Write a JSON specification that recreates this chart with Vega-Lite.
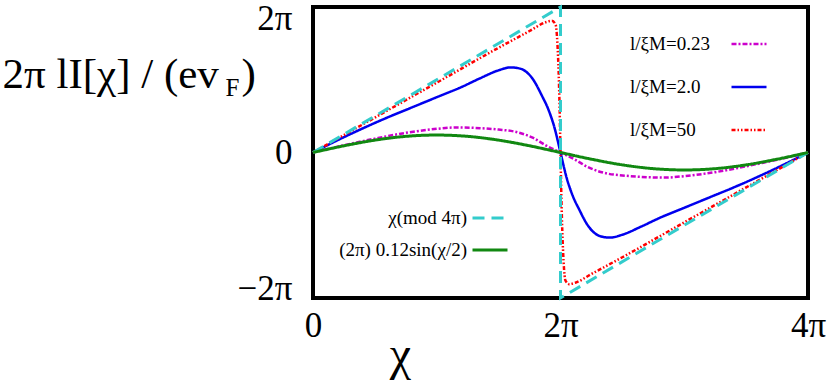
{
  "$schema": "https://vega.github.io/schema/vega-lite/v6.json",
  "width": 495,
  "height": 291,
  "autosize": {"type": "none"},
  "padding": {"left": 313, "top": 7, "right": 22, "bottom": 84},
  "background": "white",
  "config": {
    "view": {"stroke": "black", "strokeWidth": 4},
    "font": "Liberation Serif"
  },
  "datasets": {
    "curves": [
      {"s": "l/ξM=0.23", "x": 0, "y": 0},
      {"s": "l/ξM=0.23", "x": 0.25, "y": 0.10},
      {"s": "l/ξM=0.23", "x": 0.5, "y": 0.19},
      {"s": "l/ξM=0.23", "x": 0.75, "y": 0.27},
      {"s": "l/ξM=0.23", "x": 1.0, "y": 0.325},
      {"s": "l/ξM=0.23", "x": 1.16, "y": 0.345},
      {"s": "l/ξM=0.23", "x": 1.35, "y": 0.335},
      {"s": "l/ξM=0.23", "x": 1.5, "y": 0.315},
      {"s": "l/ξM=0.23", "x": 1.62, "y": 0.29},
      {"s": "l/ξM=0.23", "x": 1.78, "y": 0.2},
      {"s": "l/ξM=0.23", "x": 1.89, "y": 0.09},
      {"s": "l/ξM=0.23", "x": 2.0, "y": 0},
      {"s": "l/ξM=0.23", "x": 2.11, "y": -0.09},
      {"s": "l/ξM=0.23", "x": 2.22, "y": -0.2},
      {"s": "l/ξM=0.23", "x": 2.38, "y": -0.29},
      {"s": "l/ξM=0.23", "x": 2.5, "y": -0.315},
      {"s": "l/ξM=0.23", "x": 2.65, "y": -0.335},
      {"s": "l/ξM=0.23", "x": 2.84, "y": -0.345},
      {"s": "l/ξM=0.23", "x": 3.0, "y": -0.325},
      {"s": "l/ξM=0.23", "x": 3.25, "y": -0.27},
      {"s": "l/ξM=0.23", "x": 3.5, "y": -0.19},
      {"s": "l/ξM=0.23", "x": 3.75, "y": -0.10},
      {"s": "l/ξM=0.23", "x": 4.0, "y": 0},

      {"s": "l/ξM=2.0", "x": 0, "y": 0},
      {"s": "l/ξM=2.0", "x": 0.2, "y": 0.17},
      {"s": "l/ξM=2.0", "x": 0.4, "y": 0.33},
      {"s": "l/ξM=2.0", "x": 0.6, "y": 0.48},
      {"s": "l/ξM=2.0", "x": 0.8, "y": 0.62},
      {"s": "l/ξM=2.0", "x": 1.0, "y": 0.76},
      {"s": "l/ξM=2.0", "x": 1.2, "y": 0.9},
      {"s": "l/ξM=2.0", "x": 1.35, "y": 1.02},
      {"s": "l/ξM=2.0", "x": 1.5, "y": 1.13},
      {"s": "l/ξM=2.0", "x": 1.6, "y": 1.17},
      {"s": "l/ξM=2.0", "x": 1.68, "y": 1.15},
      {"s": "l/ξM=2.0", "x": 1.78, "y": 1.0},
      {"s": "l/ξM=2.0", "x": 1.85, "y": 0.78},
      {"s": "l/ξM=2.0", "x": 1.9, "y": 0.6},
      {"s": "l/ξM=2.0", "x": 1.95, "y": 0.35},
      {"s": "l/ξM=2.0", "x": 2.0, "y": 0},
      {"s": "l/ξM=2.0", "x": 2.05, "y": -0.35},
      {"s": "l/ξM=2.0", "x": 2.1, "y": -0.6},
      {"s": "l/ξM=2.0", "x": 2.15, "y": -0.78},
      {"s": "l/ξM=2.0", "x": 2.22, "y": -1.0},
      {"s": "l/ξM=2.0", "x": 2.32, "y": -1.15},
      {"s": "l/ξM=2.0", "x": 2.4, "y": -1.17},
      {"s": "l/ξM=2.0", "x": 2.5, "y": -1.13},
      {"s": "l/ξM=2.0", "x": 2.65, "y": -1.02},
      {"s": "l/ξM=2.0", "x": 2.8, "y": -0.9},
      {"s": "l/ξM=2.0", "x": 3.0, "y": -0.76},
      {"s": "l/ξM=2.0", "x": 3.2, "y": -0.62},
      {"s": "l/ξM=2.0", "x": 3.4, "y": -0.48},
      {"s": "l/ξM=2.0", "x": 3.6, "y": -0.33},
      {"s": "l/ξM=2.0", "x": 3.8, "y": -0.17},
      {"s": "l/ξM=2.0", "x": 4.0, "y": 0},

      {"s": "l/ξM=50", "x": 0, "y": 0},
      {"s": "l/ξM=50", "x": 0.5, "y": 0.48},
      {"s": "l/ξM=50", "x": 1.0, "y": 0.96},
      {"s": "l/ξM=50", "x": 1.5, "y": 1.44},
      {"s": "l/ξM=50", "x": 1.75, "y": 1.67},
      {"s": "l/ξM=50", "x": 1.88, "y": 1.79},
      {"s": "l/ξM=50", "x": 1.93, "y": 1.81},
      {"s": "l/ξM=50", "x": 1.96, "y": 1.76},
      {"s": "l/ξM=50", "x": 1.975, "y": 1.5},
      {"s": "l/ξM=50", "x": 1.985, "y": 1.1},
      {"s": "l/ξM=50", "x": 1.993, "y": 0.6},
      {"s": "l/ξM=50", "x": 2.0, "y": 0},
      {"s": "l/ξM=50", "x": 2.007, "y": -0.6},
      {"s": "l/ξM=50", "x": 2.015, "y": -1.1},
      {"s": "l/ξM=50", "x": 2.025, "y": -1.5},
      {"s": "l/ξM=50", "x": 2.04, "y": -1.76},
      {"s": "l/ξM=50", "x": 2.07, "y": -1.81},
      {"s": "l/ξM=50", "x": 2.12, "y": -1.79},
      {"s": "l/ξM=50", "x": 2.25, "y": -1.67},
      {"s": "l/ξM=50", "x": 2.5, "y": -1.44},
      {"s": "l/ξM=50", "x": 3.0, "y": -0.96},
      {"s": "l/ξM=50", "x": 3.5, "y": -0.48},
      {"s": "l/ξM=50", "x": 4.0, "y": 0},

      {"s": "χ(mod 4π)", "x": 0, "y": 0},
      {"s": "χ(mod 4π)", "x": 2, "y": 2},
      {"s": "χ(mod 4π)", "x": 2, "y": -2},
      {"s": "χ(mod 4π)", "x": 4, "y": 0},

      {"s": "(2π) 0.12sin(χ/2)", "x": 0, "y": 0},
      {"s": "(2π) 0.12sin(χ/2)", "x": 0.25, "y": 0.092},
      {"s": "(2π) 0.12sin(χ/2)", "x": 0.5, "y": 0.170},
      {"s": "(2π) 0.12sin(χ/2)", "x": 0.75, "y": 0.222},
      {"s": "(2π) 0.12sin(χ/2)", "x": 1.0, "y": 0.24},
      {"s": "(2π) 0.12sin(χ/2)", "x": 1.25, "y": 0.222},
      {"s": "(2π) 0.12sin(χ/2)", "x": 1.5, "y": 0.170},
      {"s": "(2π) 0.12sin(χ/2)", "x": 1.75, "y": 0.092},
      {"s": "(2π) 0.12sin(χ/2)", "x": 2.0, "y": 0},
      {"s": "(2π) 0.12sin(χ/2)", "x": 2.25, "y": -0.092},
      {"s": "(2π) 0.12sin(χ/2)", "x": 2.5, "y": -0.170},
      {"s": "(2π) 0.12sin(χ/2)", "x": 2.75, "y": -0.222},
      {"s": "(2π) 0.12sin(χ/2)", "x": 3.0, "y": -0.24},
      {"s": "(2π) 0.12sin(χ/2)", "x": 3.25, "y": -0.222},
      {"s": "(2π) 0.12sin(χ/2)", "x": 3.5, "y": -0.170},
      {"s": "(2π) 0.12sin(χ/2)", "x": 3.75, "y": -0.092},
      {"s": "(2π) 0.12sin(χ/2)", "x": 4.0, "y": 0}
    ]
  },
  "data": {"name": "curves"},
  "encoding": {
    "x": {
      "field": "x", "type": "quantitative",
      "scale": {"domain": [0, 4], "nice": false, "zero": false},
      "axis": {
        "orient": "bottom", "values": [0, 2, 4],
        "labelExpr": "datum.value == 0 ? '0' : datum.value + 'π'",
        "labelFont": "Liberation Serif", "labelFontSize": 35, "labelColor": "black",
        "labelPadding": 10, "ticks": false, "tickSize": 0, "domain": false, "grid": false,
        "labelFlush": false,
        "title": "χ", "titleFont": "Liberation Serif", "titleFontSize": 48, "titleFontWeight": "normal", "titleColor": "black",
        "titleX": 87, "titleY": 71, "titleAlign": "center", "titleBaseline": "alphabetic", "titleAnchor": null
      }
    }
  },
  "layer": [
    {
      "transform": [{"filter": {"field": "s", "oneOf": ["l/ξM=0.23", "l/ξM=2.0", "l/ξM=50"]}}],
      "mark": {"type": "line", "strokeWidth": 2.5, "interpolate": "monotone"},
      "encoding": {
        "y": {
          "field": "y", "type": "quantitative",
          "scale": {"domain": [-2, 2], "nice": false, "zero": false},
          "axis": {
            "orient": "left", "values": [-2, 0, 2],
            "labelExpr": "datum.value == 0 ? '0' : (datum.value < 0 ? '−2π' : '2π')",
            "labelFont": "Liberation Serif", "labelFontSize": 35, "labelColor": "black",
            "labelPadding": 21, "ticks": false, "tickSize": 0, "domain": false, "grid": false,
            "labelFlush": false,
            "labelOffset": {"condition": [{"test": "datum.value < 0", "value": -10}, {"test": "datum.value > 0", "value": 11}], "value": 0},
            "title": "2π lI[χ] / (ev", "titleFont": "Liberation Serif", "titleFontSize": 43, "titleFontWeight": "normal", "titleColor": "black",
            "titleAngle": 0, "titleAlign": "left", "titleBaseline": "alphabetic", "titleX": -311, "titleY": 80, "titleAnchor": null
          }
        },
        "color": {
          "field": "s", "type": "nominal",
          "scale": {"domain": ["l/ξM=0.23", "l/ξM=2.0", "l/ξM=50"], "range": ["#cc00cc", "#0000ee", "#ff0000"]},
          "legend": {
            "orient": "none", "legendX": 317, "legendY": 18, "direction": "vertical", "title": null,
            "symbolType": "stroke", "symbolSize": 1225, "symbolStrokeWidth": 2.5,
            "labelFont": "Liberation Serif", "labelFontSize": 19, "labelColor": "black",
            "labelAlign": "left", "labelOffset": -138, "symbolOffset": 100, "rowPadding": 14, "labelLimit": 0
          }
        },
        "strokeDash": {
          "field": "s", "type": "nominal",
          "scale": {"domain": ["l/ξM=0.23", "l/ξM=2.0", "l/ξM=50"], "range": [[5, 2, 2, 2], [1, 0], [4, 2, 1.5, 2, 1.5, 2]]},
          "legend": {
            "orient": "none", "legendX": 317, "legendY": 18, "direction": "vertical", "title": null,
            "symbolType": "stroke", "symbolSize": 1225, "symbolStrokeWidth": 2.5,
            "labelFont": "Liberation Serif", "labelFontSize": 19, "labelColor": "black",
            "labelAlign": "left", "labelOffset": -138, "symbolOffset": 100, "rowPadding": 14, "labelLimit": 0
          }
        }
      }
    },
    {
      "encoding": {
        "x": {
          "field": "x", "type": "quantitative",
          "scale": {"domain": [0, 4], "nice": false, "zero": false},
          "axis": {
            "orient": "top", "labels": false, "ticks": false, "domain": false, "grid": false,
            "title": ")", "titleFont": "Liberation Serif", "titleFontSize": 43, "titleFontWeight": "normal", "titleColor": "black",
            "titleAngle": 0, "titleAlign": "left", "titleBaseline": "alphabetic", "titleX": -72, "titleY": 80, "titleAnchor": null
          }
        },
        "y": {
          "field": "y", "type": "quantitative",
          "scale": {"domain": [-2, 2], "nice": false, "zero": false},
          "axis": {
            "orient": "right", "labels": false, "ticks": false, "domain": false, "grid": false,
            "title": "F", "titleFont": "Liberation Serif", "titleFontSize": 25, "titleFontWeight": "normal", "titleColor": "black",
            "titleAngle": 0, "titleAlign": "left", "titleBaseline": "alphabetic", "titleX": -583, "titleY": 88, "titleAnchor": null
          }
        },
        "color": {
          "field": "s", "type": "nominal",
          "scale": {"domain": ["χ(mod 4π)", "(2π) 0.12sin(χ/2)"], "range": ["#33cccc", "#118811"]},
          "legend": {
            "orient": "none", "legendX": 158, "legendY": 192, "direction": "vertical", "title": null,
            "symbolType": "stroke", "symbolSize": 1225, "symbolStrokeWidth": 3,
            "labelFont": "Liberation Serif", "labelFontSize": 19, "labelColor": "black",
            "labelAlign": "right", "labelOffset": -42, "symbolOffset": 0, "rowPadding": 3, "labelLimit": 0
          }
        },
        "strokeDash": {
          "field": "s", "type": "nominal",
          "scale": {"domain": ["χ(mod 4π)", "(2π) 0.12sin(χ/2)"], "range": [[12, 7], [1, 0]]},
          "legend": {
            "orient": "none", "legendX": 158, "legendY": 192, "direction": "vertical", "title": null,
            "symbolType": "stroke", "symbolSize": 1225, "symbolStrokeWidth": 3,
            "labelFont": "Liberation Serif", "labelFontSize": 19, "labelColor": "black",
            "labelAlign": "right", "labelOffset": -42, "symbolOffset": 0, "rowPadding": 3, "labelLimit": 0
          }
        }
      },
      "layer": [
        {
          "transform": [{"filter": {"field": "s", "equal": "χ(mod 4π)"}}],
          "mark": {"type": "line", "strokeWidth": 3, "interpolate": "linear"},
          "encoding": {"order": {"value": null}}
        },
        {
          "transform": [{"filter": {"field": "s", "equal": "(2π) 0.12sin(χ/2)"}}],
          "mark": {"type": "line", "strokeWidth": 3, "interpolate": "monotone"}
        }
      ]
    }
  ],
  "resolve": {
    "scale": {"color": "independent", "strokeDash": "independent"},
    "axis": {"x": "independent", "y": "independent"}
  }
}
